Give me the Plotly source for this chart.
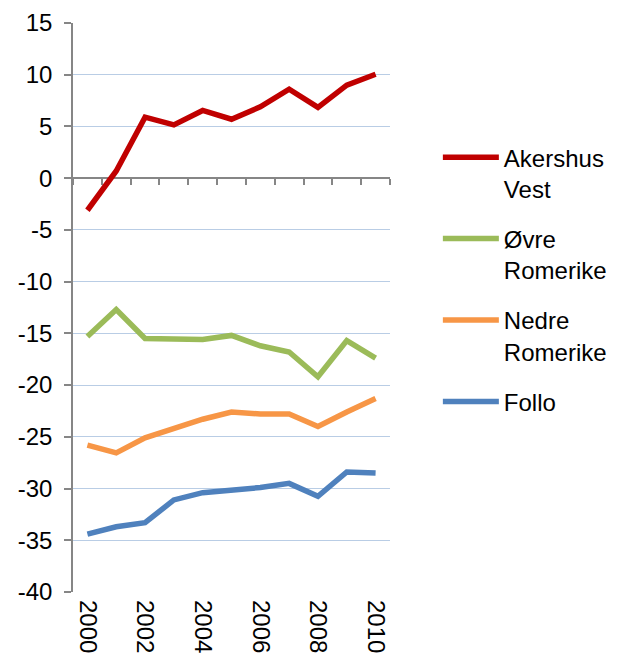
import plotly.graph_objects as go

years = list(range(2000, 2011))
akershus_vest = [-3.1, 0.7, 5.9, 5.15, 6.55, 5.7, 6.9, 8.6, 6.85, 9.0, 10.05]
ovre_romerike = [-15.3, -12.7, -15.5, -15.6, -15.6, -15.2, -16.2, -16.8, -19.2, -15.7, -17.4]
nedre_romerike = [-25.8, -26.55, -25.1, -24.2, -23.3, -22.6, -22.8, -22.8, -24.0, -22.6, -21.3]
follo = [-34.4, -33.7, -33.3, -31.1, -30.4, -30.2, -29.9, -29.5, -30.75, -28.4, -28.5]

series = [
    ("Akershus<br>Vest", akershus_vest, "#C00000"),
    ("Øvre<br>Romerike", ovre_romerike, "#9BBB59"),
    ("Nedre<br>Romerike", nedre_romerike, "#F79646"),
    ("Follo", follo, "#4F81BD"),
]
x_labels = [2000, 2002, 2004, 2006, 2008, 2010]
y_ticks = list(range(-40, 16, 5))
y_ticktext = [str(v) for v in y_ticks]

fig = go.Figure()
for i, (name, vals, col) in enumerate(series):
    fig.add_trace(go.Scatter(x=years, y=vals, name=name, mode="lines",
                             line=dict(color=col, width=5.5),
                             legendgroup=f"g{i}"))

# dummy trace to activate the category-boundary axis at y=0
fig.add_trace(go.Scatter(x=years, y=[None] * len(years), xaxis="x2",
                         showlegend=False, hoverinfo="skip"))

ymin, ymax = -40, 15
fig.update_layout(
    width=611, height=658,
    margin=dict(l=65, r=229, t=15, b=74, autoexpand=False),
    paper_bgcolor="white", plot_bgcolor="white",
    font=dict(family="Liberation Sans, Arial", size=24, color="black"),
    xaxis=dict(range=[1999.5, 2010.5], tickvals=x_labels, tickangle=90,
               showgrid=False, showline=False, zeroline=False, ticks="",
               ticklabelstandoff=7, automargin=False),
    xaxis2=dict(range=[1999.5, 2010.5], overlaying="x", anchor="free",
                position=(0 - ymin) / (ymax - ymin), side="bottom",
                tickvals=[y + 0.5 for y in range(1999, 2011)],
                showticklabels=False, ticks="outside", ticklen=6,
                tickcolor="#868686", tickwidth=1.5, showline=True,
                linecolor="#868686", linewidth=1.5, showgrid=False,
                zeroline=False, layer="below traces", automargin=False),
    yaxis=dict(range=[ymin, ymax], tickvals=y_ticks, ticktext=y_ticktext,
               showgrid=True, gridcolor="#B9CDE5", gridwidth=1, zeroline=False,
               showline=True, linecolor="#868686", linewidth=1.5,
               ticks="outside", ticklen=7, tickcolor="#868686", tickwidth=1.5,
               ticklabelstandoff=7, automargin=False),
    legend=dict(x=1.151, y=0.803, xanchor="left", yanchor="top",
                font=dict(size=24), valign="top", tracegroupgap=16,
                itemwidth=56, bgcolor="rgba(0,0,0,0)"),
    showlegend=True,
)

fig.write_html("out.html")
